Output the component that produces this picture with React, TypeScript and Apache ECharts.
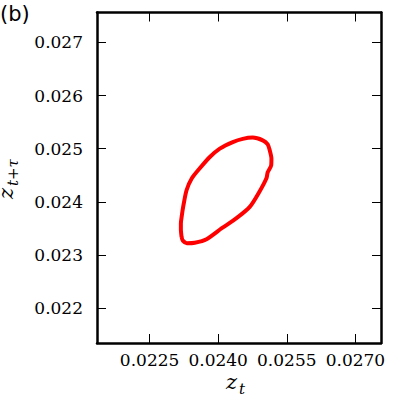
import React, { useEffect, useRef } from "react";
import * as echarts from "echarts";

// Phase-space loop: z_t (x) vs z_{t+tau} (y)
const zt = [
  0.023199, 0.023184, 0.023184, 0.023206, 0.023234, 0.023308, 0.023424, 0.023598,
  0.023817, 0.024035, 0.024319, 0.024537, 0.024755, 0.024974, 0.025083, 0.025127,
  0.025164, 0.025159, 0.025083, 0.025055, 0.024908, 0.02469, 0.0244, 0.024079,
  0.023745, 0.023489, 0.023315, 0.023227, 0.023199,
];
const ztau = [
  0.023344, 0.023489, 0.023596, 0.023751, 0.023907, 0.02422, 0.024445, 0.024633,
  0.024845, 0.025003, 0.025126, 0.025186, 0.025209, 0.025158, 0.025083, 0.024971,
  0.024821, 0.024689, 0.024558, 0.024445, 0.024202, 0.023907, 0.023695, 0.023507,
  0.023301, 0.023235, 0.023226, 0.023273, 0.023344,
];
const xTicks = [0.0225, 0.024, 0.0255, 0.027];
const yTicks = [0.022, 0.023, 0.024, 0.025, 0.026, 0.027];
const axisMin = 0.02135;
const axisMax = 0.02756;

export default function App() {
  const ref = useRef<HTMLDivElement>(null);
  useEffect(() => {
    if (!ref.current) return;
    const chart = echarts.init(ref.current, null, { renderer: "svg" });
    const serif = "'DejaVu Serif', serif";
    const line = { show: true, lineStyle: { color: "#000", width: 2.5 } };
    const mkX = (pos: "bottom" | "top", labels: boolean) => ({
      type: "value",
      position: pos,
      min: axisMin,
      max: axisMax,
      axisLine: { ...line, onZero: false },
      splitLine: { show: false },
      axisTick: {
        show: true,
        inside: true,
        length: 9,
        customValues: xTicks,
        lineStyle: { color: "#000", width: 1 },
      },
      axisLabel: {
        show: labels,
        customValues: xTicks,
        formatter: (v: number) => v.toFixed(4),
        fontFamily: serif,
        fontSize: 17,
        color: "#000",
        margin: 8,
      },
    });
    const mkY = (pos: "left" | "right", labels: boolean) => ({
      type: "value",
      position: pos,
      min: axisMin,
      max: axisMax,
      axisLine: { ...line, onZero: false },
      splitLine: { show: false },
      axisTick: {
        show: true,
        inside: true,
        length: 9,
        customValues: yTicks,
        lineStyle: { color: "#000", width: 1 },
      },
      axisLabel: {
        show: labels,
        customValues: yTicks,
        formatter: (v: number) => v.toFixed(3),
        fontFamily: serif,
        fontSize: 17,
        color: "#000",
        margin: 14,
      },
    });
    chart.setOption({
      animation: false,
      grid: { left: 97, right: 19, top: 12.5, bottom: 57 },
      xAxis: [mkX("bottom", true), mkX("top", false)],
      yAxis: [mkY("left", true), mkY("right", false)],
      series: [
        {
          type: "line",
          xAxisIndex: 0,
          yAxisIndex: 0,
          data: zt.map((x, i) => [x, ztau[i]]),
          showSymbol: false,
          smooth: 0.25,
          lineStyle: { color: "#ff0000", width: 4 },
        },
      ],
      graphic: [
        {
          type: "text",
          x: 0,
          y: 3,
          style: {
            text: "(b)",
            font: "21px 'DejaVu Sans', sans-serif",
            fill: "#000",
            textAlign: "left",
            textVerticalAlign: "top",
          },
        },
        {
          type: "group",
          x: 226,
          y: 381.5,
          children: [
            {
              type: "text",
              x: 0,
              y: 0,
              style: {
                text: "z",
                font: "italic 21px 'DejaVu Serif', serif",
                fill: "#000",
                textAlign: "left",
                textVerticalAlign: "middle",
              },
            },
            {
              type: "text",
              x: 13,
              y: 7,
              style: {
                text: "t",
                font: "italic 15px 'DejaVu Serif', serif",
                fill: "#000",
                textAlign: "left",
                textVerticalAlign: "middle",
              },
            },
          ],
        },
        {
          type: "group",
          x: 6,
          y: 199,
          rotation: Math.PI / 2,
          children: [
            {
              type: "text",
              x: 0,
              y: 0,
              style: {
                text: "z",
                font: "italic 21px 'DejaVu Serif', serif",
                fill: "#000",
                textAlign: "left",
                textVerticalAlign: "middle",
              },
            },
            {
              type: "text",
              x: 13,
              y: 7,
              style: {
                text: "t+τ",
                font: "italic 15px 'DejaVu Serif', serif",
                fill: "#000",
                textAlign: "left",
                textVerticalAlign: "middle",
              },
            },
          ],
        },
      ],
    });
    return () => chart.dispose();
  }, []);
  return (
    <div
      ref={ref}
      style={{ position: "absolute", left: 0, top: 0, width: 400, height: 400, background: "#fff" }}
    />
  );
}
